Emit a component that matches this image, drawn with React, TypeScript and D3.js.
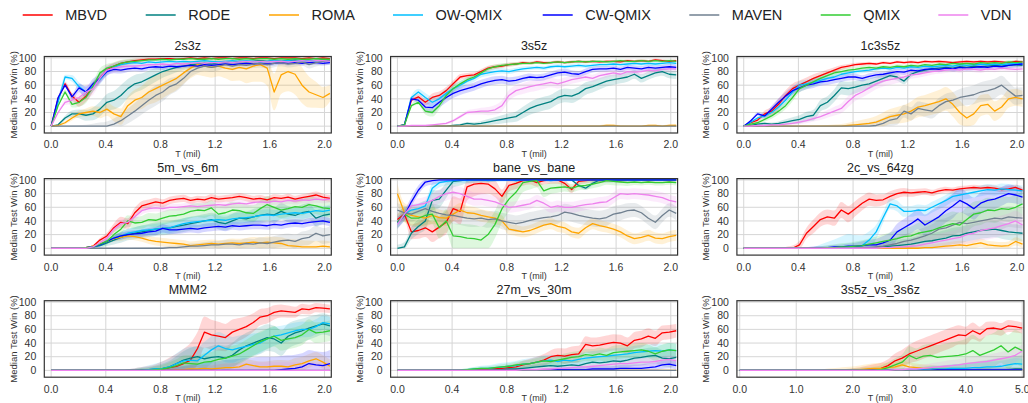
import React from 'react';
import * as d3 from 'd3';

// series order follows the legend
const METHODS = ['MBVD', 'RODE', 'ROMA', 'OW-QMIX', 'CW-QMIX', 'MAVEN', 'QMIX', 'VDN'];
const COLORS = ['#ff0000', '#008080', '#ffa500', '#00bfff', '#0000ff', '#708090', '#32cd32', '#ee82ee'];
const X_TICKS_2M = [0, 0.4, 0.8, 1.2, 1.6, 2.0];
const X_TICKS_5M = [0, 1, 2, 3, 4, 5];
const Y_TICKS = [0, 20, 40, 60, 80, 100];

// median win rate, 41 samples from 0 to the end of training
const med2s3z: number[][] = [
  [0,40,62,44,35,44,57,70,82,88,92,94,96,97,98,98,99,99,98,99,100,99,100,99,100,100,99,100,100,99,100,100,99,100,100,100,99,100,99,100,99],
  [0,2,12,18,18,16,18,25,35,38,45,55,62,65,70,75,80,83,86,88,90,91,92,91,93,94,93,95,94,95,96,95,96,95,96,97,96,95,96,97,96],
  [0,1,5,12,18,20,22,20,25,18,14,30,38,42,50,55,60,65,70,78,85,90,88,86,88,85,83,86,84,88,90,85,50,75,80,76,60,50,46,42,48],
  [0,35,72,70,58,50,58,68,80,86,90,92,93,92,94,93,94,95,94,95,94,95,96,95,94,95,96,95,96,95,94,95,96,95,96,95,96,95,96,96,95],
  [0,42,60,43,56,50,62,70,80,83,82,84,85,84,86,87,86,88,87,88,89,88,90,89,90,91,90,91,92,91,92,91,92,93,92,93,92,93,93,92,93],
  [0,0,0,0,0,0,0,0,0,3,8,15,22,30,38,45,50,58,62,70,80,85,88,86,88,90,88,90,89,91,92,90,92,93,91,92,94,90,93,95,96],
  [0,30,50,32,35,42,58,78,85,88,92,94,95,96,97,97,98,97,98,98,99,98,98,99,98,99,99,98,99,98,99,99,98,99,98,99,98,98,99,98,98],
  [0,20,35,38,42,50,55,70,82,85,87,88,88,89,90,90,91,90,92,91,92,93,92,93,93,94,93,94,95,94,95,94,95,95,94,95,96,95,96,96,95],
];
const med3s5z: number[][] = [
  [0,2,38,43,35,42,45,52,62,72,74,75,80,85,87,88,90,91,93,92,94,93,93,94,93,94,95,94,95,94,95,95,94,96,95,96,95,97,96,95,96],
  [0,0,0,0,0,0,0,0,1,2,4,3,4,6,8,10,12,14,20,26,30,33,36,42,45,44,48,55,58,62,66,68,70,72,76,70,74,78,80,76,75],
  [0,0,0,0,0,0,0,0,0,0,0,0,0,0,0,0,0,0,0,0,0,0,0,0,0,0,0,0,0,0,1,1,0,0,0,0,1,1,0,1,1],
  [0,2,42,50,42,35,40,48,55,60,66,70,76,78,80,81,80,82,84,85,86,85,87,88,87,88,89,88,89,90,90,91,90,91,92,91,92,91,92,93,92],
  [0,2,40,38,28,27,35,42,48,52,55,58,62,65,67,68,66,67,70,72,71,72,75,78,79,77,76,80,83,84,84,85,83,86,85,84,86,85,86,87,86],
  [0,0,0,0,0,0,0,0,0,0,0,0,0,0,0,0,0,0,0,0,0,0,0,0,0,0,0,0,0,0,0,0,0,0,0,0,0,0,0,0,0],
  [0,2,30,35,22,20,30,45,55,62,68,72,78,84,87,89,90,91,92,92,93,92,93,94,93,94,95,94,95,95,94,95,96,95,95,96,95,96,95,96,95],
  [0,0,1,1,1,2,3,4,8,14,20,21,22,22,24,30,45,52,55,58,60,62,64,62,65,68,70,72,70,74,76,78,76,80,79,80,82,81,83,84,84],
];
const med1c3s5z: number[][] = [
  [0,5,9,18,22,32,45,55,60,65,70,74,78,82,86,88,90,91,92,91,93,92,94,93,94,93,95,94,95,94,93,94,95,94,95,94,95,94,93,95,94],
  [0,1,3,4,3,4,6,8,10,14,16,30,35,45,56,55,57,60,62,66,70,74,72,66,76,80,82,84,85,86,85,87,86,88,87,88,89,88,89,90,89],
  [0,0,0,0,0,0,0,0,0,0,0,0,0,0,0,1,2,3,4,6,10,14,16,18,22,28,30,33,36,40,32,20,12,18,30,32,22,28,40,42,40],
  [0,6,12,15,20,28,38,50,60,62,64,67,70,72,76,78,80,81,82,84,85,84,86,85,87,86,88,87,88,89,88,90,89,90,91,90,91,90,91,92,91],
  [0,8,18,15,25,35,44,52,56,60,62,65,66,68,70,72,72,70,73,75,76,78,80,79,82,81,83,84,83,85,84,86,85,86,87,86,88,87,89,90,91],
  [0,0,0,0,0,0,0,0,0,0,0,0,0,0,0,0,0,0,0,1,4,9,11,22,18,26,24,22,30,36,38,42,44,46,50,52,55,60,52,44,45],
  [0,3,5,10,15,22,30,42,55,60,65,70,74,78,80,82,83,85,86,85,87,86,88,87,89,88,90,89,91,90,92,91,92,91,93,92,93,92,94,93,94],
  [0,0,1,1,2,2,3,4,6,8,11,14,18,22,26,36,45,50,56,62,66,68,70,72,75,76,78,80,81,82,83,82,84,83,82,84,83,85,84,83,84],
];
const med5m6m: number[][] = [
  [0,0,0,0,0,1,3,12,18,30,38,36,52,62,65,68,66,70,72,73,70,72,71,74,72,73,74,76,74,72,73,71,74,73,75,72,74,76,78,75,73],
  [0,0,0,0,0,1,2,4,8,12,16,20,22,24,26,28,29,30,32,34,36,38,40,42,38,36,40,44,43,46,48,50,49,54,50,48,52,54,44,48,50],
  [0,0,0,0,0,1,3,6,10,14,16,18,17,15,12,10,9,8,7,6,4,5,6,7,6,7,8,7,8,9,8,9,8,7,4,3,2,2,2,3,2],
  [0,0,0,0,0,1,2,5,10,15,18,22,24,26,27,28,29,30,33,36,38,39,40,41,42,41,43,44,45,46,48,49,48,50,51,52,51,53,55,54,56],
  [0,0,0,0,0,1,2,5,10,15,18,20,21,22,24,25,29,27,27,28,29,28,30,31,32,31,33,32,33,34,34,33,35,34,36,37,36,38,39,40,38],
  [0,0,0,0,0,0,0,0,0,0,0,0,0,0,0,0,0,1,1,2,3,3,4,5,5,6,6,5,7,6,8,7,9,11,12,10,14,16,22,18,20],
  [0,0,0,0,0,1,2,6,10,20,28,40,37,38,42,41,44,47,48,50,54,56,55,59,50,52,56,55,52,51,58,64,60,56,58,61,60,64,62,59,58],
  [0,0,0,0,0,0,2,8,15,28,36,38,46,55,58,59,58,60,60,61,62,61,62,63,64,63,65,66,65,67,68,67,69,68,70,69,71,70,72,71,72],
];
const medBane: number[][] = [
  [42,50,24,26,30,24,31,38,58,54,90,94,95,94,87,76,92,95,99,100,96,99,100,100,95,86,98,99,100,99,100,100,99,100,100,100,99,100,100,99,100],
  [0,2,22,32,40,70,72,85,98,99,100,100,100,100,100,100,100,100,100,100,100,100,100,100,100,100,92,88,95,100,100,100,100,100,100,100,100,100,100,100,100],
  [80,52,48,46,44,48,45,44,50,56,52,51,48,46,44,40,28,26,24,26,30,34,36,32,30,24,22,30,36,33,31,28,24,18,14,16,19,15,14,17,19],
  [36,50,56,58,62,88,96,98,99,100,99,100,100,99,100,100,100,99,100,100,100,100,99,100,100,100,100,100,100,100,100,100,100,100,100,100,100,100,100,100,100],
  [38,48,68,85,97,99,100,100,100,100,100,100,100,100,100,100,100,100,100,100,100,100,100,100,100,100,100,100,100,100,100,100,100,100,100,100,100,100,100,100,100],
  [56,52,50,54,58,54,51,49,48,46,44,43,44,42,43,40,38,36,38,41,43,45,46,48,53,51,48,46,44,43,45,50,52,55,56,52,44,38,48,56,51],
  [38,50,44,44,48,50,30,40,18,17,15,14,12,20,35,58,72,82,96,98,99,84,88,89,90,88,91,92,94,96,99,98,97,96,97,96,97,96,96,97,96],
  [35,50,62,64,66,70,76,80,82,80,76,72,72,70,68,64,60,61,63,65,70,66,60,62,60,60,62,64,65,67,68,74,80,79,80,79,78,76,74,70,68],
];
const med2c64zg: number[][] = [
  [0,0,0,0,0,0,0,0,5,22,32,42,46,44,56,50,58,66,72,70,71,76,80,82,81,82,83,81,84,86,85,87,88,89,88,89,88,86,87,89,85],
  [0,0,0,0,0,0,0,0,0,0,0,0,0,0,0,0,0,0,1,1,2,3,4,5,6,8,10,11,13,15,18,19,22,24,26,27,28,26,24,23,22],
  [0,0,0,0,0,0,0,0,0,0,0,0,0,0,0,0,0,0,0,0,0,0,0,0,0,0,1,1,2,3,4,5,4,6,8,5,4,3,4,10,6],
  [0,0,0,0,0,0,0,0,0,0,0,0,0,0,1,1,2,4,12,24,45,65,62,54,54,56,55,60,65,70,76,78,80,82,84,86,85,87,86,85,84],
  [0,0,0,0,0,0,0,0,0,0,1,1,1,2,2,3,3,4,5,5,8,12,24,30,36,43,34,40,46,55,62,70,65,58,66,70,72,76,80,78,75],
  [0,0,0,0,0,0,0,0,0,0,0,0,0,0,0,0,0,0,1,2,3,5,7,10,12,15,18,22,28,30,34,38,36,38,40,42,44,43,46,45,44],
  [0,0,0,0,0,0,0,0,0,0,0,0,1,1,2,2,3,4,6,8,10,12,14,17,18,22,24,26,30,33,36,34,42,50,52,56,55,58,57,60,65],
  [0,0,0,0,0,0,0,0,0,0,0,0,0,0,0,0,0,0,0,0,1,1,2,2,3,4,6,8,10,12,14,16,20,22,26,28,30,33,36,40,34],
];
const medMMM2: number[][] = [
  [0,0,0,0,0,0,0,0,0,0,0,0,0,0,0,1,2,4,6,10,15,32,56,52,50,48,56,60,64,70,78,80,85,87,86,85,90,89,92,91,90],
  [0,0,0,0,0,0,0,0,0,0,0,0,0,1,1,2,3,5,10,15,18,20,17,19,20,18,22,30,36,40,44,48,46,40,50,55,58,62,65,68,65],
  [0,0,0,0,0,0,0,0,0,0,0,0,0,0,0,0,0,0,1,1,2,2,3,2,3,4,4,5,9,7,5,5,6,6,5,8,10,14,17,12,6],
  [0,0,0,0,0,0,0,0,0,0,0,0,0,0,1,2,3,5,10,14,15,14,22,30,36,32,30,33,35,38,40,46,50,52,55,58,60,60,64,70,68],
  [0,0,0,0,0,0,0,0,0,0,0,0,0,0,0,0,0,0,0,0,0,0,0,0,0,0,0,0,0,0,0,0,0,1,2,3,5,10,8,7,10],
  [0,0,0,0,0,0,0,0,0,0,0,0,0,0,0,0,0,0,0,0,0,0,0,0,0,0,0,0,0,0,0,0,0,0,0,0,0,0,0,0,0],
  [0,0,0,0,0,0,0,0,0,0,0,0,0,0,0,1,2,4,7,11,10,9,12,13,16,18,21,24,30,36,42,46,50,44,46,48,52,60,55,56,58],
  [0,0,0,0,0,0,0,0,0,0,0,0,0,0,0,0,0,0,0,0,0,0,0,0,0,0,0,0,0,0,0,0,0,0,0,0,0,0,0,0,0],
];
const med27m30m: number[][] = [
  [0,0,0,0,0,0,0,0,0,0,0,1,2,2,3,3,4,5,8,10,12,15,20,22,21,23,24,38,36,37,39,41,40,36,44,46,50,47,55,56,58],
  [0,0,0,0,0,0,0,0,0,0,0,0,0,0,1,1,2,2,3,4,5,6,7,6,7,8,7,10,12,11,12,14,13,15,18,19,21,22,18,17,19],
  [0,0,0,0,0,0,0,0,0,0,0,0,0,0,0,0,0,0,0,0,0,0,0,0,0,0,0,0,0,0,0,0,0,0,0,0,0,0,0,0,0],
  [0,0,0,0,0,0,0,0,0,0,1,2,3,3,4,5,6,7,9,10,12,14,15,13,15,14,16,18,19,20,21,22,23,24,26,27,28,29,28,30,29],
  [0,0,0,0,0,0,0,0,0,0,0,0,0,0,0,0,0,0,0,0,0,0,1,1,1,1,1,1,2,2,2,2,3,3,3,3,4,5,8,9,7],
  [0,0,0,0,0,0,0,0,0,0,0,0,0,0,0,0,0,0,0,0,0,0,0,0,0,0,0,0,0,0,0,0,0,0,0,0,0,0,0,0,0],
  [0,0,0,0,0,0,0,0,0,0,1,2,3,3,4,5,6,8,9,10,12,14,13,15,17,19,20,23,22,24,22,26,27,28,29,30,28,24,28,30,29],
  [0,0,0,0,0,0,0,0,0,0,0,0,0,0,0,0,0,0,1,1,1,2,2,3,3,4,5,5,6,7,8,9,10,10,11,12,12,13,15,16,14],
];
const med3s5z3s6z: number[][] = [
  [0,0,0,0,0,0,0,0,0,0,0,0,0,0,0,0,0,0,1,2,3,7,14,18,24,28,32,36,40,44,48,52,51,58,53,61,62,60,65,64,62],
  [0,0,0,0,0,0,0,0,0,0,0,0,0,0,0,0,0,0,0,0,0,0,0,0,0,0,0,0,0,0,0,0,0,0,0,0,1,1,1,2,2],
  [0,0,0,0,0,0,0,0,0,0,0,0,0,0,0,0,0,1,2,3,3,4,5,8,5,4,3,3,2,2,1,1,1,1,1,1,1,1,1,1,1],
  [0,0,0,0,0,0,0,0,0,0,0,0,0,0,0,0,0,0,0,0,0,0,0,0,1,1,1,2,2,2,3,3,3,4,4,5,5,6,8,10,9],
  [0,0,0,0,0,0,0,0,0,0,0,0,0,0,0,0,0,0,0,0,0,0,0,0,0,0,0,0,1,1,1,1,1,1,1,1,1,1,1,1,1],
  [0,0,0,0,0,0,0,0,0,0,0,0,0,0,0,0,0,0,0,0,0,0,0,0,0,0,0,0,0,0,0,0,0,0,0,0,0,0,0,0,0],
  [0,0,0,0,0,0,0,0,0,0,0,0,0,0,0,0,0,0,0,0,1,4,8,12,22,17,21,22,19,20,21,22,24,29,22,26,30,36,27,34,29],
  [0,0,0,0,0,0,0,0,0,0,0,0,0,0,0,0,0,0,0,0,0,0,1,1,2,2,3,4,5,6,7,8,10,11,12,13,15,17,19,22,28],
];

// spread of the shaded band, read at 9 evenly spaced points
const band2s3z: number[][] = [
  [0,8,4,2,1,1,1,1,1], [0,8,15,10,5,4,3,3,3], [0,6,12,20,15,15,25,30,12], [0,8,5,3,2,2,2,2,2],
  [0,8,5,4,3,3,3,3,3], [0,2,10,15,8,6,6,5,6], [0,8,5,2,1,1,1,1,1], [0,10,6,3,2,2,2,2,2],
];
const band3s5z: number[][] = [
  [0,6,4,3,2,2,2,2,2], [0,0,2,6,10,10,8,6,6], [0,0,0,0,1,1,2,1,2], [0,8,5,4,3,3,3,3,3],
  [0,8,6,6,5,5,4,4,4], [0,0,0,0,0,0,0,0,0], [0,6,4,3,2,2,2,2,2], [0,1,3,8,8,6,5,5,4],
];
const band1c3s5z: number[][] = [
  [0,8,6,3,2,2,2,2,2], [0,3,8,10,6,4,4,4,4], [0,0,0,4,10,15,18,15,12], [0,6,6,4,3,3,3,3,3],
  [0,6,6,5,4,4,4,4,4], [0,0,0,2,8,10,12,15,12], [0,5,6,4,3,3,3,3,3], [0,2,4,8,8,5,4,4,4],
];
const band5m6m: number[][] = [
  [0,0,8,6,5,5,5,5,5], [0,0,8,10,10,10,12,12,12], [0,0,5,6,6,6,8,10,8], [0,0,6,8,8,8,8,8,8],
  [0,0,5,6,6,6,6,6,6], [0,0,0,2,4,6,8,10,12], [0,0,8,10,10,12,12,12,12], [0,0,6,5,5,5,5,5,5],
];
const bandBane: number[][] = [
  [8,15,20,10,6,5,3,2,2], [5,15,5,2,2,2,4,2,2], [15,12,10,8,8,8,8,8,8], [8,8,3,2,2,2,2,2,2],
  [8,6,1,1,1,1,1,1,1], [10,12,12,12,12,12,12,10,10], [10,15,20,20,10,6,6,4,4], [8,10,10,8,8,8,8,8,8],
];
const band2c64zg: number[][] = [
  [0,0,10,12,8,5,4,4,4], [0,0,0,2,6,10,12,12,12], [0,0,0,0,2,4,6,6,6], [0,0,2,20,8,8,8,8,8],
  [0,0,2,4,10,15,18,15,12], [0,0,0,2,8,12,15,15,15], [0,0,2,6,10,15,18,18,18], [0,0,0,2,6,10,12,15,15],
];
const bandMMM2: number[][] = [
  [0,0,0,8,25,20,12,8,6], [0,0,0,5,15,18,20,18,15], [0,0,0,2,4,6,8,10,10], [0,0,0,8,20,20,15,12,10],
  [0,0,0,0,8,15,20,20,20], [0,0,0,0,0,0,0,0,0], [0,0,0,5,12,15,15,15,15], [0,0,0,0,5,10,12,12,12],
];
const band27m30m: number[][] = [
  [0,0,0,3,8,12,12,12,10], [0,0,0,2,4,6,10,12,12], [0,0,0,0,0,0,0,0,0], [0,0,2,6,8,8,10,10,10],
  [0,0,0,0,2,4,4,6,6], [0,0,0,0,0,0,0,0,0], [0,0,2,4,6,8,10,10,10], [0,0,0,1,3,4,5,6,6],
];
const band3s5z3s6z: number[][] = [
  [0,0,0,2,8,15,15,10,8], [0,0,0,0,2,4,8,15,20], [0,0,0,5,8,6,4,4,4], [0,0,0,0,2,4,6,8,8],
  [0,0,0,0,1,2,3,3,3], [0,0,0,0,0,0,0,0,0], [0,0,0,2,6,15,20,25,25], [0,0,0,0,2,5,8,10,10],
];

const PANELS = [
  { title: '2s3z', tEnd: 2.04, med: med2s3z, band: band2s3z, ticks: X_TICKS_2M, dom: [-0.05, 2.05] },
  { title: '3s5z', tEnd: 2.04, med: med3s5z, band: band3s5z, ticks: X_TICKS_2M, dom: [-0.05, 2.05] },
  { title: '1c3s5z', tEnd: 2.04, med: med1c3s5z, band: band1c3s5z, ticks: X_TICKS_2M, dom: [-0.05, 2.05] },
  { title: '5m_vs_6m', tEnd: 2.04, med: med5m6m, band: band5m6m, ticks: X_TICKS_2M, dom: [-0.05, 2.05] },
  { title: 'bane_vs_bane', tEnd: 2.04, med: medBane, band: bandBane, ticks: X_TICKS_2M, dom: [-0.05, 2.05] },
  { title: '2c_vs_64zg', tEnd: 2.04, med: med2c64zg, band: band2c64zg, ticks: X_TICKS_2M, dom: [-0.05, 2.05] },
  { title: 'MMM2', tEnd: 2.04, med: medMMM2, band: bandMMM2, ticks: X_TICKS_2M, dom: [-0.05, 2.05] },
  { title: '27m_vs_30m', tEnd: 2.04, med: med27m30m, band: band27m30m, ticks: X_TICKS_2M, dom: [-0.05, 2.05] },
  { title: '3s5z_vs_3s6z', tEnd: 5.0, med: med3s5z3s6z, band: band3s5z3s6z, ticks: X_TICKS_5M, dom: [-0.05, 5.03] },
];

const LEGEND_X = [22.7, 145.7, 269, 393, 542.7, 689.3, 820.7, 938.3];
const FONT = '"Liberation Sans", Arial, Helvetica, sans-serif';
const W = 287, H = 76.5;

function Panel({ p, idx }: { p: typeof PANELS[number]; idx: number }) {
  const col = idx % 3, row = Math.floor(idx / 3);
  const left = 44.3 + col * 346.3;
  const top = 56.5 + row * 122.1;
  const x = d3.scaleLinear().domain(p.dom).range([left, left + W]);
  const y = d3.scaleLinear().domain([-10, 102]).range([top + H, top]);
  const n = p.med[0].length;
  const ts = d3.range(n).map(i => (i * p.tEnd) / (n - 1));
  const knots = d3.range(9).map(j => (j * p.tEnd) / 8);
  const clipId = `clip${idx}`;
  const fmt = p.ticks === X_TICKS_5M ? d3.format('.1f') : d3.format('.1f');

  const line = d3.line<number>().x((_, i) => x(ts[i])).y(v => y(v));

  return (
    <g>
      <defs>
        <clipPath id={clipId}>
          <rect x={left} y={top} width={W} height={H} />
        </clipPath>
      </defs>
      <rect x={left} y={top} width={W} height={H} fill="#ffffff" />
      {p.ticks.map(t => (
        <line key={'gx' + t} x1={x(t)} x2={x(t)} y1={top} y2={top + H} stroke="#d6d6d6" strokeWidth={1} />
      ))}
      {Y_TICKS.map(t => (
        <line key={'gy' + t} x1={left} x2={left + W} y1={y(t)} y2={y(t)} stroke="#d6d6d6" strokeWidth={1} />
      ))}
      <g clipPath={`url(#${clipId})`}>
        {p.med.map((vals, s) => {
          const spread = d3.scaleLinear().domain(knots).range(p.band[s]);
          const area = d3
            .area<number>()
            .x((_, i) => x(ts[i]))
            .y0((v, i) => y(Math.max(0, v - spread(ts[i]))))
            .y1((v, i) => y(Math.min(100, v + spread(ts[i]))))
            .curve(d3.curveMonotoneX);
          return <path key={'b' + s} d={area(vals) || ''} fill={COLORS[s]} fillOpacity={0.16} stroke="none" />;
        })}
        {p.med.map((vals, s) => (
          <path key={'l' + s} d={line(vals) || ''} fill="none" stroke={COLORS[s]} strokeWidth={1.3} strokeLinejoin="round" />
        ))}
      </g>
      <rect x={left} y={top} width={W} height={H} fill="none" stroke="#333333" strokeWidth={1.2} />
      {Y_TICKS.map(t => (
        <text key={'ty' + t} x={left - 8} y={y(t) + 3.7} textAnchor="end" fontSize={10.5} fill="#333333" fontFamily={FONT}>
          {t}
        </text>
      ))}
      {p.ticks.map(t => (
        <text key={'tx' + t} x={x(t)} y={top + H + 15.4} textAnchor="middle" fontSize={10.5} fill="#333333" fontFamily={FONT}>
          {fmt(t)}
        </text>
      ))}
      <text x={left + W / 2} y={top + H + 23.8} textAnchor="middle" fontSize={9} fill="#333333" fontFamily={FONT}>
        T (mil)
      </text>
      <text
        transform={`translate(${left - 31},${top + H / 2}) rotate(-90)`}
        textAnchor="middle"
        dominantBaseline="central"
        fontSize={9.5}
        fill="#333333"
        fontFamily={FONT}
      >
        Median Test Win (%)
      </text>
      <text x={left + W / 2} y={top - 6.5} textAnchor="middle" fontSize={12.5} fill="#222222" fontFamily={FONT}>
        {p.title}
      </text>
    </g>
  );
}

export default function App() {
  return (
    <svg
      width={1028}
      height={403}
      style={{ position: 'absolute', left: 0, top: 0, background: '#ffffff' }}
    >
      <rect x={0} y={0} width={1028} height={403} fill="#ffffff" />
      {METHODS.map((m, i) => (
        <g key={m}>
          <line x1={LEGEND_X[i]} x2={LEGEND_X[i] + 30} y1={15} y2={15} stroke={COLORS[i]} strokeWidth={1.5} />
          <text x={LEGEND_X[i] + 42.5} y={20.2} fontSize={14.5} fill="#222222" fontFamily={FONT}>
            {m}
          </text>
        </g>
      ))}
      {PANELS.map((p, i) => (
        <Panel key={p.title} p={p} idx={i} />
      ))}
    </svg>
  );
}
